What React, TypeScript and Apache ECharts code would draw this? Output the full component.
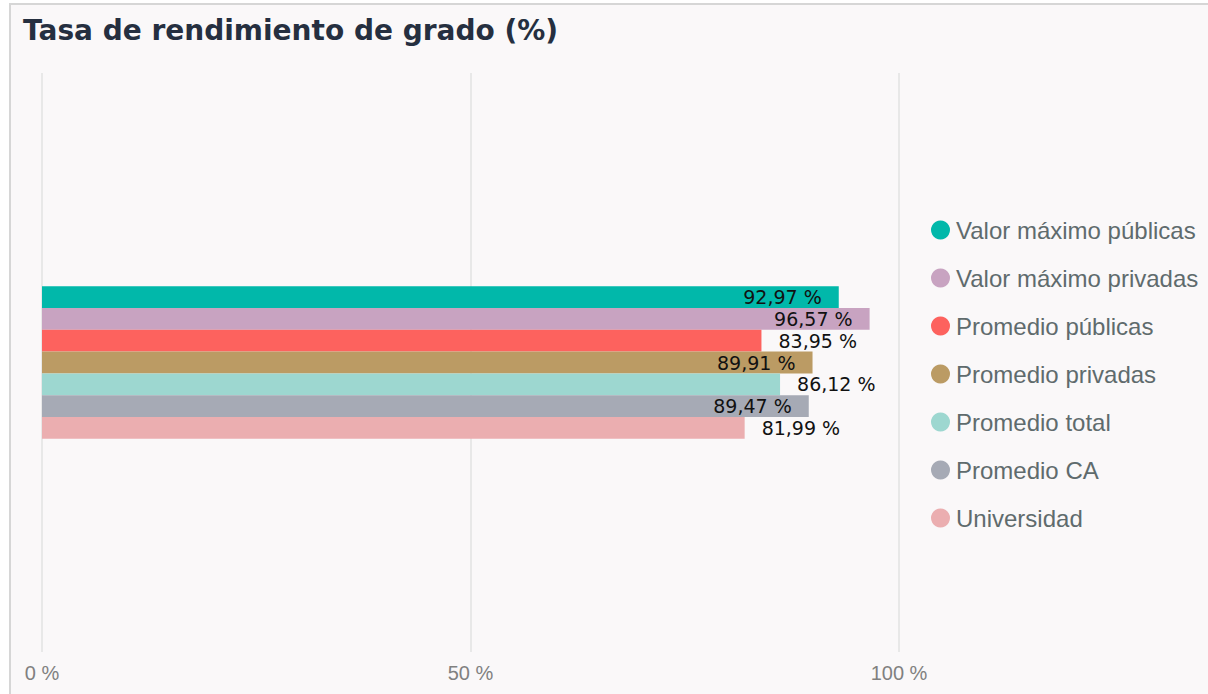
import React, { useEffect, useRef } from "react";
import * as echarts from "echarts";

const title = "Tasa de rendimiento de grado (%)";
const categories = ["Tasa de rendimiento de grado"];
const seriesNames = [
  "Valor máximo públicas",
  "Valor máximo privadas",
  "Promedio públicas",
  "Promedio privadas",
  "Promedio total",
  "Promedio CA",
  "Universidad",
];
const seriesValues = [92.97, 96.57, 83.95, 89.91, 86.12, 89.47, 81.99];
const seriesColors = ["#01b8aa", "#c8a3c1", "#fd625e", "#bb9b64", "#9dd7d0", "#a6aab5", "#ebaeb0"];
const labelInside = [true, true, false, true, false, true, false];
const xTicks = [0, 50, 100];

export default function App() {
  const ref = useRef<HTMLDivElement>(null);
  useEffect(() => {
    if (!ref.current) return;
    const chart = echarts.init(ref.current, undefined, { renderer: "svg" });
    chart.setOption({
      animation: false,
      title: {
        text: title,
        left: 18,
        top: 11,
        textStyle: {
          fontFamily: "DejaVu Sans, sans-serif",
          fontWeight: "bold",
          fontSize: 28,
          color: "#252f40",
        },
      },
      legend: {
        orient: "vertical",
        left: 926,
        top: 213,
        itemWidth: 19,
        itemHeight: 19,
        itemGap: 24,
        icon: "circle",
        data: seriesNames,
        textStyle: {
          fontFamily: "Liberation Sans, Arial, sans-serif",
          fontSize: 24,
          color: "#5f6b6d",
          padding: [0, 0, 0, 1],
        },
      },
      grid: { left: 42, top: 73, width: 857, bottom: 42 },
      xAxis: {
        type: "value",
        min: xTicks[0],
        max: xTicks[xTicks.length - 1],
        interval: 50,
        axisLine: { show: false },
        axisTick: { show: false },
        splitLine: { show: true, lineStyle: { color: "#e8e8e8", width: 2 } },
        axisLabel: {
          formatter: (v: number) => `${v} %`,
          fontFamily: "Liberation Sans, Arial, sans-serif",
          fontSize: 20,
          color: "#808080",
          margin: 11,
        },
      },
      yAxis: {
        type: "category",
        data: categories,
        inverse: true,
        show: false,
      },
      series: seriesNames.map((name, i) => ({
        name,
        type: "bar",
        barWidth: 21.8,
        barGap: "0%",
        itemStyle: { color: seriesColors[i] },
        label: {
          show: true,
          position: labelInside[i] ? "insideRight" : "right",
          distance: 17,
          formatter: (p: any) => `${p.value.toFixed(2).replace(".", ",")} %`,
          fontFamily: "DejaVu Sans, sans-serif",
          fontSize: 19,
          lineHeight: 19,
          color: "#111",
        },
        data: [seriesValues[i]],
      })),
    });
    return () => chart.dispose();
  }, []);
  return (
    <div style={{ position: "fixed", left: 0, top: 0, width: 1208, height: 694, background: "#fff", overflow: "hidden" }}>
      <div
        style={{
          position: "absolute",
          left: 9,
          top: 3,
          width: 1220,
          height: 720,
          borderLeft: "2px solid #d6d6d6",
          borderTop: "2px solid #d6d6d6",
          background: "#faf8f9",
        }}
      />
      <div ref={ref} style={{ position: "absolute", left: 0, top: 0, width: 1208, height: 694 }} />
    </div>
  );
}
